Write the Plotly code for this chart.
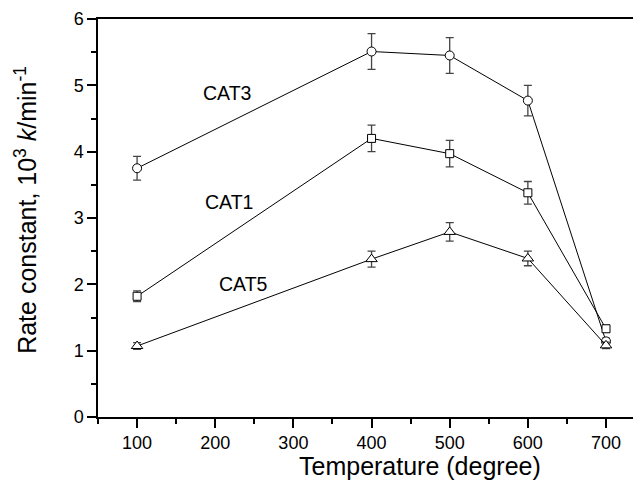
import plotly.graph_objects as go

temps = [100, 400, 500, 600, 700]

cat3 = [3.75, 5.51, 5.45, 4.77, 1.14]
cat3_err = [0.18, 0.27, 0.27, 0.23, 0.05]
cat1 = [1.82, 4.20, 3.97, 3.38, 1.33]
cat1_err = [0.08, 0.20, 0.20, 0.17, 0.05]
cat5 = [1.07, 2.38, 2.79, 2.39, 1.08]
cat5_err = [0.05, 0.12, 0.14, 0.11, 0.05]

series_names = ["CAT3", "CAT1", "CAT5"]
label_x = [215, 218, 236]
label_y = [4.89, 3.24, 2.0]

x_title = "Temperature (degree)"
y_title = "Rate constant, 10<sup>3</sup> <i>k</i>/min<sup>-1</sup>"

font_family = "Liberation Sans, Arial, sans-serif"

fig = go.Figure()

def add_series(y, err, symbol, size, name):
    fig.add_trace(go.Scatter(
        x=temps, y=y, name=name, mode="lines+markers",
        line=dict(color="black", width=1),
        marker=dict(symbol=symbol, size=size, color="white",
                    line=dict(color="black", width=1)),
        error_y=dict(type="data", array=err, visible=True,
                     color="#444444", thickness=1.3, width=4),
        showlegend=False,
    ))

add_series(cat3, cat3_err, "circle", 9, "CAT3")
add_series(cat1, cat1_err, "square", 8, "CAT1")
add_series(cat5, cat5_err, "triangle-up", 10, "CAT5")

for name, lx, ly in zip(series_names, label_x, label_y):
    fig.add_annotation(x=lx, y=ly, text=name, showarrow=False,
                       font=dict(size=19.5, color="black", family=font_family),
                       xanchor="center", yanchor="middle")

fig.add_annotation(xref="paper", yref="paper", x=0.584, y=-0.123,
                   text=x_title, showarrow=False,
                   font=dict(size=25, color="black", family=font_family),
                   xanchor="center", yanchor="middle")

fig.add_annotation(xref="paper", yref="paper", x=-0.131, y=0.52,
                   text=y_title, showarrow=False, textangle=-90,
                   font=dict(size=25, color="black", family=font_family),
                   xanchor="center", yanchor="middle")

fig.update_layout(
    width=641, height=491,
    margin=dict(l=90, r=0, t=11, b=82),
    plot_bgcolor="white", paper_bgcolor="white",
    font=dict(family=font_family, color="black", size=18),
    xaxis=dict(
        range=[50, 755], tickmode="array",
        tickvals=[100, 200, 300, 400, 500, 600, 700],
        ticks="outside", ticklen=9, tickwidth=1.5, tickcolor="black",
        minor=dict(dtick=50, tick0=50, ticks="outside", ticklen=5, tickwidth=1.5, tickcolor="black"),
        showline=True, linecolor="black", linewidth=1.5, mirror=True,
        showgrid=False, zeroline=False, automargin=False,
        tickfont=dict(size=18),
    ),
    yaxis=dict(
        range=[0, 6], dtick=1, tick0=0,
        ticks="outside", ticklen=9, tickwidth=1.5, tickcolor="black",
        minor=dict(dtick=0.5, ticks="outside", ticklen=5, tickwidth=1.5, tickcolor="black"),
        showline=True, linecolor="black", linewidth=1.5, mirror=False,
        showgrid=False, zeroline=False, automargin=False,
        tickfont=dict(size=18),
    ),
)

fig.write_html("out.html")
